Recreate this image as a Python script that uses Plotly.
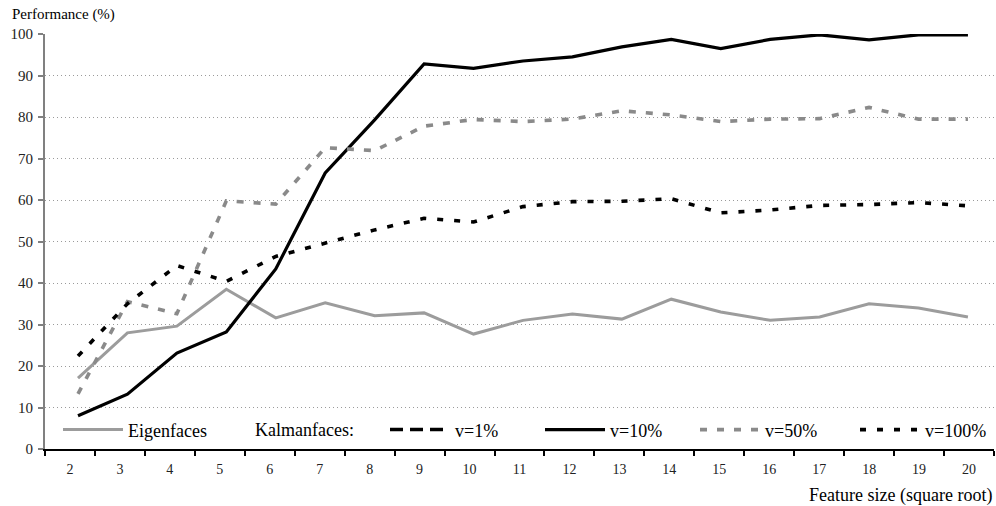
import plotly.graph_objects as go

# ---------------- data ----------------
feature_size = list(range(2, 21))
tick_labels = [str(v) for v in feature_size]
y_ticks = [0, 10, 20, 30, 40, 50, 60, 70, 80, 90, 100]

eigenfaces = [17.1, 28.0, 29.6, 38.5, 31.6, 35.2, 32.1, 32.8, 27.7, 31.0,
              32.5, 31.3, 36.1, 33.0, 31.0, 31.8, 35.0, 34.0, 31.8]
kalman_v1 = [None, None, None, None, None, None, None, None, None, None,
             None, None, None, None, None, None, None, None, None]
kalman_v10 = [8.0, 13.2, 23.1, 28.2, 43.4, 66.5, 79.3, 92.8, 91.7, 93.5,
              94.5, 96.9, 98.7, 96.5, 98.7, 99.8, 98.6, 99.8, 99.8]
kalman_v50 = [13.3, 35.5, 32.6, 59.8, 59.0, 72.6, 71.9, 77.8, 79.4, 78.9,
              79.5, 81.5, 80.5, 78.9, 79.5, 79.6, 82.3, 79.5, 79.5]
kalman_v100 = [22.4, 35.0, 44.2, 40.4, 46.4, 49.7, 52.8, 55.6, 54.7, 58.4,
               59.6, 59.7, 60.3, 56.9, 57.6, 58.7, 58.9, 59.4, 58.6]

FONT = "Liberation Serif"

fig = go.Figure()

fig.add_trace(go.Scatter(x=feature_size, y=eigenfaces, name="Eigenfaces",
                         mode="lines", line=dict(color="#9c9c9c", width=3),
                         legend="legend"))
fig.add_trace(go.Scatter(x=feature_size, y=kalman_v1, name="v=1%",
                         mode="lines", line=dict(color="black", width=3.5, dash="13px,7px"),
                         legend="legend2"))
fig.add_trace(go.Scatter(x=feature_size, y=kalman_v10, name="v=10%",
                         mode="lines", line=dict(color="black", width=3.2),
                         legend="legend2"))
fig.add_trace(go.Scatter(x=feature_size, y=kalman_v50, name="v=50%",
                         mode="lines", line=dict(color="#8a8a8a", width=3.6, dash="7px,10px"),
                         legend="legend2"))
fig.add_trace(go.Scatter(x=feature_size, y=kalman_v100, name="v=100%",
                         mode="lines", line=dict(color="black", width=3.6, dash="6px,11px"),
                         legend="legend3"))
# helper (draws nothing) so that the category label axis is rendered
fig.add_trace(go.Scatter(x=feature_size, y=[None] * len(feature_size), xaxis="x2",
                         mode="lines", showlegend=False, hoverinfo="skip"))

legend_common = dict(orientation="h", yanchor="middle", y=0.046, xanchor="left",
                     font=dict(family=FONT, size=18, color="black"),
                     bgcolor="rgba(0,0,0,0)", itemwidth=60, traceorder="normal")

# plot area: x 45..994, y 34..449
fig.update_layout(
    width=996, height=506,
    margin=dict(l=45, r=2, t=34, b=57, pad=0),
    paper_bgcolor="white", plot_bgcolor="white",
    font=dict(family=FONT, size=15, color="#222"),
    showlegend=True,
    legend=dict(legend_common, x=13 / 949),
    legend2=dict(legend_common, x=340 / 949, entrywidth=80, entrywidthmode="pixels"),
    legend3=dict(legend_common, x=810 / 949),
    xaxis=dict(visible=False, range=[1.3325, 20.527], fixedrange=True),
    xaxis2=dict(overlaying="x", anchor="y", side="bottom",
                range=[1.5, 20.5], tickmode="array",
                tickvals=feature_size, ticktext=tick_labels, ticks="",
                showgrid=False, zeroline=False,
                showline=True, linecolor="black", linewidth=1.5,
                tickfont=dict(family=FONT, size=14, color="#222"),
                ticklabelstandoff=6, fixedrange=True,
                minor=dict(tickvals=[v + 0.5 for v in [1] + feature_size],
                           ticks="outside", ticklen=5, tickcolor="black", tickwidth=1.5,
                           showgrid=False)),
    yaxis=dict(range=[0, 100], tickmode="array", tickvals=y_ticks,
               ticks="outside", ticklen=5, tickcolor="#808080", tickwidth=1.5,
               showline=True, linecolor="#808080", linewidth=2,
               showgrid=True, gridcolor="#9a9a9a", gridwidth=1, griddash="1px,3px",
               zeroline=False, tickfont=dict(family=FONT, size=15, color="#222"),
               ticklabelstandoff=2, fixedrange=True),
    annotations=[
        dict(text="Performance (%)", xref="paper", yref="paper", x=(10 - 45) / 949, y=1.0,
             xanchor="left", yanchor="bottom", showarrow=False, yshift=9,
             font=dict(family=FONT, size=15, color="black")),
        dict(text="Feature size (square root)", xref="paper", yref="paper", x=1.0,
             y=0, xanchor="right", yanchor="top", showarrow=False, yshift=-34,
             font=dict(family=FONT, size=18, color="black")),
        dict(text="Kalmanfaces:", xref="paper", yref="paper", x=(253 - 45) / 949,
             y=0.046, xanchor="left", yanchor="middle", showarrow=False,
             font=dict(family=FONT, size=18, color="black")),
    ],
)

fig.write_html("out.html", config={"displayModeBar": False},
               post_script="document.body.style.margin='0';")
